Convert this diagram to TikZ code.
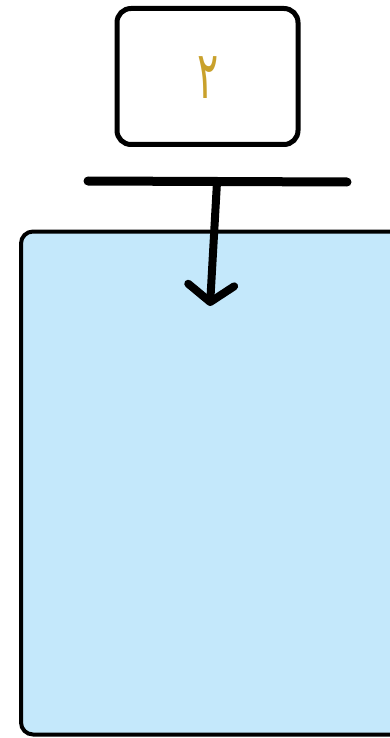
\documentclass[tikz,border=0pt]{standalone}
\usepackage{fontspec}
\usepackage{graphicx}
\newfontfamily\arabicfont[Script=Arabic]{DejaVu Sans}
\TeXXeTstate=1
\usetikzlibrary{arrows.meta}
\definecolor{boxblue}{HTML}{C4E8FB}
\definecolor{digitgold}{HTML}{C9A12C}
\tikzset{
  topbox/.style={draw=black, line width=5pt, rounded corners=14pt, fill=white,
    minimum width=181pt, minimum height=136pt, inner sep=0pt},
  bigbox/.style={draw=black, line width=4pt, rounded corners=12pt, fill=boxblue,
    minimum width=385pt, minimum height=503pt, inner sep=0pt},
  barline/.style={line width=9pt, line cap=round},
  flowarrow/.style={line width=8pt, line cap=round, line join=round,
    -{Straight Barb[length=17pt,width=46pt,line cap=round,line join=round]}},
}
\begin{document}
\begin{tikzpicture}[x=1pt,y=-1pt]
\useasboundingbox (0,0) rectangle (390,738);
\clip (0,0) rectangle (390,738);
\fill[white] (0,0) rectangle (390,738);
\node[bigbox] (big) at (213.5,483) {};
\node[topbox] (top) at (207.5,76.5) {};
\node[text=digitgold, font=\arabicfont\fontsize{44}{46}\selectfont] (digit) at (208,78)
  {\scalebox{0.9}[1.5]{\beginR ٢\endR}};
\coordinate (barL) at (88,181);
\coordinate (barR) at (347,182);
\coordinate (barM) at (217,182);
\coordinate (tip) at (210,306);
\draw[barline] (barL) -- (barR);
\draw[flowarrow] (barM) -- (tip);
\end{tikzpicture}
\end{document}
